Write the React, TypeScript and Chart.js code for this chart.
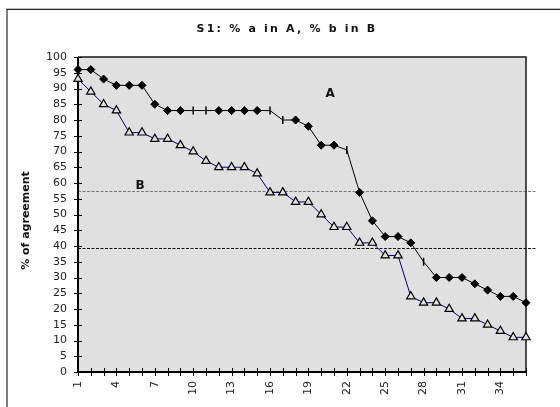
import React, { useEffect, useRef } from 'react';
import { Chart, registerables } from 'chart.js';

Chart.register(...registerables);

// Respondent rank along the x axis
const categories = [
  '1', '2', '3', '4', '5', '6', '7', '8', '9', '10', '11', '12',
  '13', '14', '15', '16', '17', '18', '19', '20', '21', '22', '23', '24',
  '25', '26', '27', '28', '29', '30', '31', '32', '33', '34', '35', '36',
];

// % a in A
const seriesA = [
  96, 96, 93, 91, 91, 91, 85, 83, 83, 83, 83, 83,
  83, 83, 83, 83, 80, 80, 78, 72, 72, 70.5, 57, 48,
  43, 43, 41, 35, 30, 30, 30, 28, 26, 24, 24, 22,
];

// % b in B
const seriesB = [
  93, 89, 85, 83, 76, 76, 74, 74, 72, 70, 67, 65,
  65, 65, 63, 57, 57, 54, 54, 50, 46, 46, 41, 41,
  37, 37, 24, 22, 22, 20, 17, 17, 15, 13, 11, 11,
];

// Points of series A shown with a bar marker instead of a diamond
const barMarkedA = ['10', '11', '16', '17', '22', '28'];

// Horizontal reference levels (% of agreement)
const referenceLevels = [57.6, 39.4];

const chartTitle = 'S1: % a in A, % b in B';
const yTitle = '% of agreement';
const yTicks = { min: 0, max: 100, step: 5 };

// Series tags written inside the plot: [text, category index, value]
const seriesTags: [string, number, number][] = [
  ['A', 19.7, 88.4],
  ['B', 4.85, 59.2],
];

const FONT = "'DejaVu Sans', 'Liberation Sans', Arial, sans-serif";
const PLOT_BG = '#e0e0e0';

const decorations = {
  id: 'decorations',
  beforeDraw(chart: any) {
    const { ctx, chartArea: a, width, height } = chart;
    ctx.save();
    ctx.fillStyle = '#ffffff';
    ctx.fillRect(0, 0, width, height);
    // outer frame (top and left edges)
    ctx.strokeStyle = '#bdbdbd';
    ctx.lineWidth = 1;
    ctx.beginPath();
    ctx.moveTo(6, 8.5);
    ctx.lineTo(width, 8.5);
    ctx.stroke();
    ctx.strokeStyle = '#262626';
    ctx.lineWidth = 1.2;
    ctx.beginPath();
    ctx.moveTo(7, height);
    ctx.lineTo(7, 9.5);
    ctx.lineTo(width, 9.5);
    ctx.stroke();
    // plot background
    ctx.fillStyle = PLOT_BG;
    ctx.fillRect(a.left, a.top, a.right - a.left, a.bottom - a.top);
    ctx.restore();
  },
  beforeDatasetsDraw(chart: any) {
    const { ctx, chartArea: a } = chart;
    const xs = chart.scales.x;
    const ys = chart.scales.y;
    ctx.save();

    // dashed reference levels
    const colors = ['#7a7a7a', '#111111'];
    referenceLevels.forEach((v, i) => {
      const py = Math.round(ys.getPixelForValue(v)) + 0.5;
      ctx.strokeStyle = colors[i % colors.length];
      ctx.lineWidth = 1;
      ctx.setLineDash([3, 1.5]);
      ctx.beginPath();
      ctx.moveTo(a.left, py);
      ctx.lineTo(a.right + 10, py);
      ctx.stroke();
    });
    ctx.setLineDash([]);

    // plot frame: thin top/right, heavier axes
    ctx.strokeStyle = '#1a1a1a';
    ctx.lineWidth = 1.5;
    ctx.beginPath();
    ctx.moveTo(a.left, a.top);
    ctx.lineTo(a.right, a.top);
    ctx.lineTo(a.right, a.bottom);
    ctx.stroke();
    ctx.strokeStyle = '#000';
    ctx.lineWidth = 2;
    ctx.beginPath();
    ctx.moveTo(a.left, a.top);
    ctx.lineTo(a.left, a.bottom);
    ctx.lineTo(a.right, a.bottom);
    ctx.stroke();

    // cross tick marks
    ctx.lineWidth = 1;
    ctx.strokeStyle = '#000';
    ctx.beginPath();
    for (let v = yTicks.min; v <= yTicks.max; v += yTicks.step) {
      const py = Math.round(ys.getPixelForValue(v)) + 0.5;
      ctx.moveTo(a.left - 4, py);
      ctx.lineTo(a.left + 4, py);
    }
    categories.forEach((_, i) => {
      const px = Math.round(xs.getPixelForValue(i)) + 0.5;
      ctx.moveTo(px, a.bottom - 4);
      ctx.lineTo(px, a.bottom + 4);
    });
    ctx.stroke();
    ctx.restore();
  },
  afterDraw(chart: any) {
    const { ctx, chartArea: a } = chart;
    const xs = chart.scales.x;
    const ys = chart.scales.y;
    ctx.save();
    ctx.fillStyle = '#111';
    ctx.textAlign = 'center';
    ctx.textBaseline = 'middle';

    // chart title
    ctx.font = `bold 11px ${FONT}`;
    (ctx as any).letterSpacing = '2.2px';
    ctx.fillText(chartTitle, 287, 29);
    (ctx as any).letterSpacing = '0px';

    // y axis title
    ctx.save();
    ctx.translate(26, (a.top + a.bottom) / 2 + 6);
    ctx.rotate(-Math.PI / 2);
    ctx.font = `bold 11px ${FONT}`;
    ctx.fillText(yTitle, 0, 0);
    ctx.restore();

    // series tags
    ctx.font = `bold 12px ${FONT}`;
    seriesTags.forEach(([t, c, v]) => {
      ctx.fillText(t, xs.getPixelForValue(c), ys.getPixelForValue(v));
    });
    ctx.restore();
  },
};

export default function App() {
  const ref = useRef<HTMLCanvasElement | null>(null);

  useEffect(() => {
    if (!ref.current) return;
    const chart = new Chart(ref.current, {
      type: 'line',
      data: {
        labels: categories,
        datasets: [
          {
            label: 'A',
            data: seriesA,
            borderColor: '#000',
            borderWidth: 1,
            tension: 0,
            clip: false,
            pointStyle: categories.map((c) => (barMarkedA.includes(c) ? 'line' : 'rectRot')) as any,
            pointRotation: categories.map((c) => (barMarkedA.includes(c) ? 90 : 0)),
            pointRadius: 4,
            pointBorderWidth: categories.map((c) => (barMarkedA.includes(c) ? 1.5 : 1)),
            pointBackgroundColor: '#000',
            pointBorderColor: '#000',
          },
          {
            label: 'B',
            data: seriesB,
            borderColor: '#000080',
            borderWidth: 1,
            tension: 0,
            clip: false,
            pointStyle: 'triangle',
            pointRadius: 4.8,
            pointBorderWidth: 1.2,
            pointBackgroundColor: PLOT_BG,
            pointBorderColor: '#000',
          },
        ],
      },
      options: {
        responsive: false,
        animation: false,
        devicePixelRatio: 1,
        layout: { padding: { top: 57, right: 34, left: 0, bottom: 0 } },
        plugins: {
          legend: { display: false },
          title: { display: false },
          tooltip: { enabled: false },
        },
        scales: {
          x: {
            type: 'category',
            offset: false,
            grid: { display: false, drawTicks: false },
            border: { display: false },
            ticks: {
              autoSkip: false,
              minRotation: 90,
              maxRotation: 90,
              padding: 9,
              color: '#222',
              font: { family: FONT, size: 11 },
              callback: (_v: any, i: number) => (i % 3 === 0 ? categories[i] : ''),
            },
            afterFit: (s: any) => {
              s.height = 35;
            },
          },
          y: {
            min: yTicks.min,
            max: yTicks.max,
            grid: { display: false, drawTicks: false },
            border: { display: false },
            ticks: {
              stepSize: yTicks.step,
              autoSkip: false,
              padding: 11,
              color: '#222',
              font: { family: FONT, size: 11 },
            },
            afterFit: (s: any) => {
              s.width = 78;
            },
          },
        },
      },
      plugins: [decorations],
    });
    return () => chart.destroy();
  }, []);

  return (
    <div style={{ position: 'fixed', left: 0, top: 0, width: 560, height: 407 }}>
      <canvas ref={ref} width={560} height={407} style={{ display: 'block' }} />
    </div>
  );
}
